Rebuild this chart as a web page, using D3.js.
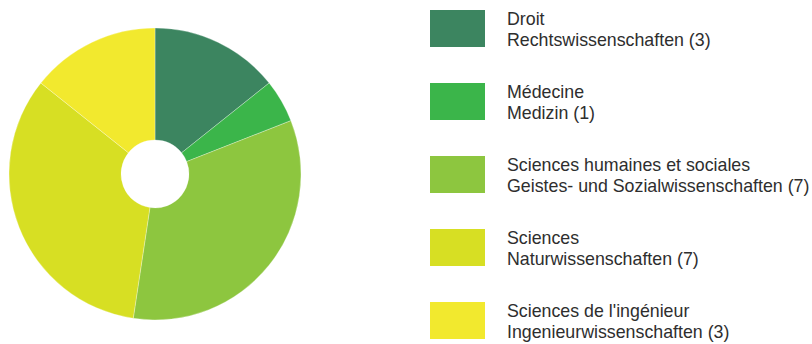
<!DOCTYPE html>
<html>
<head>
<meta charset="utf-8">
<script src="https://cdn.jsdelivr.net/npm/d3@7"></script>
<style>
  html, body { margin: 0; padding: 0; background: #fff; }
  svg { display: block; }
</style>
</head>
<body>
<svg id="chart" width="812" height="344"></svg>
<script>
// Faculties (French / German) and their counts
const labelsFr = ["Droit", "Médecine", "Sciences humaines et sociales", "Sciences", "Sciences de l'ingénieur"];
const labelsDe = ["Rechtswissenschaften", "Medizin", "Geistes- und Sozialwissenschaften", "Naturwissenschaften", "Ingenieurwissenschaften"];
const counts = [3, 1, 7, 7, 3];
const colors = ["#3c8560", "#3bb54a", "#8dc63f", "#d7df23", "#f2e92e"];

const svg = d3.select("#chart");
const cx = 155, cy = 174, outerR = 146, innerR = 34;

const data = counts.map((v, i) => ({ fr: labelsFr[i], de: labelsDe[i], value: v, color: colors[i] }));

const pie = d3.pie().value(d => d.value).sort(null);
const arc = d3.arc().innerRadius(innerR).outerRadius(outerR);

svg.append("g")
  .attr("transform", `translate(${cx},${cy})`)
  .selectAll("path")
  .data(pie(data))
  .join("path")
  .attr("d", arc)
  .attr("fill", d => d.data.color)
  .attr("stroke", "#fff")
  .attr("stroke-width", 0.3);

// Legend
const legendY = d3.scalePoint().domain(d3.range(data.length)).range([10, 302]);
const legend = svg.append("g")
  .selectAll("g")
  .data(data)
  .join("g")
  .attr("transform", (d, i) => `translate(430,${legendY(i)})`);

legend.append("rect")
  .attr("width", 55)
  .attr("height", 37)
  .attr("fill", d => d.color);

const txt = legend.append("text")
  .attr("font-family", "'Liberation Sans', Arial, sans-serif")
  .attr("font-size", 17.8)
  .attr("fill", "#2e2e2e");

txt.append("tspan").attr("x", 77).attr("y", 15).text(d => d.fr);
txt.append("tspan").attr("x", 77).attr("y", 36).text(d => `${d.de} (${d.value})`);
</script>
</body>
</html>
